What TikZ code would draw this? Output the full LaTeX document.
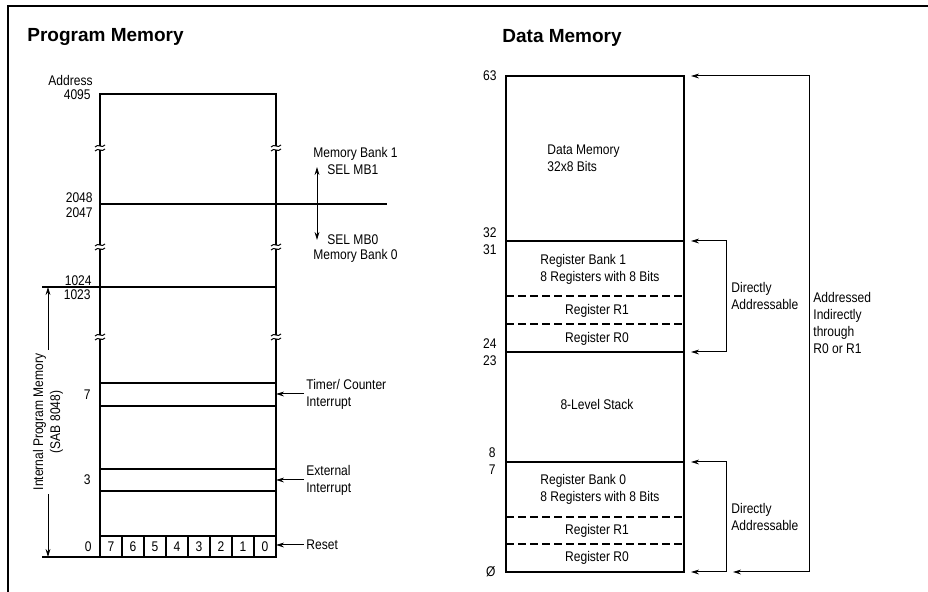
\documentclass[tikz,border=0pt]{standalone}
\usepackage{fontspec}
\setmainfont{Liberation Sans}[FakeStretch=0.86]
\newfontfamily\headfont{Liberation Sans}
\usetikzlibrary{arrows.meta}

\begin{document}
\begin{tikzpicture}[
    x=0.5pt, y=-0.5pt,
    >={Stealth[length=4pt,width=2.4pt]},
    lbl/.style={font=\fontsize{7}{8.5}\selectfont, inner sep=1pt},
    num/.style={lbl, anchor=east},
    note/.style={lbl, anchor=west, align=left},
    title/.style={font=\headfont\bfseries\fontsize{9.5}{11}\selectfont, anchor=west, inner sep=0pt},
    frame/.style={line width=0.75pt},
    wall/.style={line width=1pt},
    sep/.style={line width=0.6pt},
    dsep/.style={line width=0.6pt, dash pattern=on 4pt off 2pt},
    arr/.style={->, line width=0.5pt},
    darr/.style={<->, line width=0.5pt},
    brk/.pic={
        \fill[white] (-2.5,-2) rectangle (2.5,2);
        \draw[line width=0.5pt] (-5,-1) .. controls (-2,-5) and (2,1) .. (5,-3);
        \draw[line width=0.5pt] (-5,3) .. controls (-2,-1) and (2,5) .. (5,1);
    }
]
\useasboundingbox (0,0) rectangle (928,592);
% frame
\draw[frame] (8,592) -- (8,6) -- (928,6);

% program memory
\node[title] (pmtitle) at (27,37) {Program Memory};
\coordinate (pmNW) at (100,94);
\coordinate (pmSE) at (276,557);
\draw[sep] (100,204) -- (387,204);
\draw[sep] (42,287) -- (276,287);
\draw[sep] (42,557) -- (100,557);
\foreach \y in {383,406,469,491,536}
    \draw[sep] (100,\y) -- (276,\y);
\foreach \i in {1,...,7}
    \draw[sep] ({100+22*\i},536) -- ({100+22*\i},557);
\draw[wall] (pmNW) rectangle (pmSE);
\foreach \y in {148,247,337} {
    \pic at (100,\y) {brk};
    \pic at (276,\y) {brk};
}
\foreach \b in {0,...,7}
    \node[lbl] (bit\b) at ({111+22*(7-\b)},547) {\b};

\node[num] (addr) at (95,81) {Address};
\node[num] (a4095) at (93,95) {4095};
\node[num] (a2048) at (95,198) {2048};
\node[num] (a2047) at (95,213) {2047};
\node[num] (a1024) at (94,281) {1024};
\node[num] (a1023) at (93,295) {1023};
\node[num] (a7) at (93,395) {7};
\node[num] (a3) at (93,480) {3};
\node[num] (a0) at (94,547) {0};

\coordinate (ipmtop) at (48,287);
\coordinate (ipmbot) at (48,557);
\draw[darr] (ipmbot) -- (ipmtop)
    node[midway, lbl, rotate=90, fill=white, align=center, inner sep=2pt] (ipm)
    {Internal Program Memory\\(SAB 8048)};

\coordinate (mb1) at (317,167);
\coordinate (mb0) at (317,240);
\draw[darr] (mb1) -- (mb0);
\node[note] (bank1) at (311,154) {Memory Bank 1};
\node[note] (sel1) at (325,170) {SEL MB1};
\node[note] (sel0) at (325,240) {SEL MB0};
\node[note] (bank0) at (311,256) {Memory Bank 0};

\node[note] (tci) at (304,394) {Timer/ Counter\\Interrupt};
\node[note] (exti) at (304,480) {External\\Interrupt};
\node[note] (rst) at (304,545) {Reset};
\draw[arr] (tci.west) -- (tci.west -| pmSE);
\draw[arr] (exti.west) -- (exti.west -| pmSE);
\draw[arr] (rst.west) -- (rst.west -| pmSE);

% data memory
\node[title] (dmtitle) at (502,38) {Data Memory};
\coordinate (dmNW) at (506,76);
\coordinate (dmSE) at (684,572);
\foreach \y in {241,352,462}
    \draw[sep] (506,\y) -- (684,\y);
\foreach \y in {296,324,517,544}
    \draw[dsep] (506,\y) -- (684,\y);
\draw[wall] (dmNW) rectangle (dmSE);

\node[num] (d63) at (499,76) {63};
\node[num] (d32) at (499,233) {32};
\node[num] (d31) at (499,250) {31};
\node[num] (d24) at (499,344) {24};
\node[num] (d23) at (499,361) {23};
\node[num] (d8) at (498,453) {8};
\node[num] (d7) at (498,470) {7};
\node[num] (d0) at (498,572) {Ø};

\node[note] (dmtxt) at (545,158) {Data Memory\\32x8 Bits};
\node[note] (rb1) at (538,269) {Register Bank 1\\8 Registers with 8 Bits};
\node[lbl] (r1hi) at (597,311) {Register R1};
\node[lbl] (r0hi) at (597,339) {Register R0};
\node[lbl] (stack) at (597,405) {8-Level Stack};
\node[note] (rb0) at (538,489) {Register Bank 0\\8 Registers with 8 Bits};
\node[lbl] (r1lo) at (597,531) {Register R1};
\node[lbl] (r0lo) at (597,558) {Register R0};

\coordinate (t63) at (691,76);
\coordinate (t32) at (691,241);
\coordinate (t24) at (691,352);
\coordinate (t8) at (691,462);
\coordinate (t0) at (691,572);
\coordinate (t0o) at (733,572);
\draw[darr] (t63) -- ++(118,0) |- (t0o);
\draw[darr] (t32) -- ++(35,0) |- (t24);
\draw[darr] (t8) -- ++(35,0) |- (t0);

\node[note] (dir1) at (729,296) {Directly\\Addressable};
\node[note] (dir0) at (729,517) {Directly\\Addressable};
\node[note] (indir) at (811,323) {Addressed\\Indirectly\\through\\R0 or R1};
\end{tikzpicture}
\end{document}
